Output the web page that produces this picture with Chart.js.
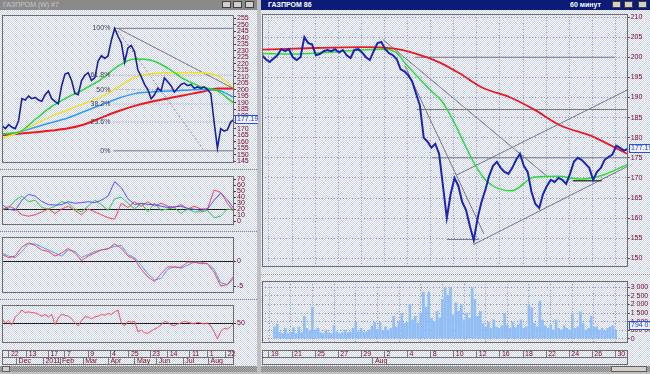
<!DOCTYPE html>
<html>
<head>
<meta charset="utf-8">
<script src="https://cdn.jsdelivr.net/npm/chart.js@4/dist/chart.umd.min.js"></script>
<style>
html, body { margin: 0; padding: 0; }
body { width: 650px; height: 374px; position: relative; overflow: hidden; background: #c0c0c0; font-family: "Liberation Sans", Arial, sans-serif; }
.win { position: absolute; top: 0; height: 372px; background: repeating-conic-gradient(#ffffff 0 25%, #c6cef6 0 50%) 0 0/2px 2px; }
.title { position: absolute; top: 0; height: 10px; font-size: 7px; line-height: 10px; white-space: nowrap; overflow: hidden; }
.btn { position: absolute; top: 1px; width: 9px; height: 7px; background: #d4d0c8; border: 1px solid #404040; box-sizing: border-box; }
.sep { position: absolute; height: 0; border-top: 1px dotted #8a8a8a; }
.scroll { position: absolute; top: 366px; height: 6px; background: repeating-conic-gradient(#808080 0 25%, #b4b4b4 0 50%) 0 0/2px 2px; }
.thumb { position: absolute; top: 0; height: 6px; background: #d4d0c8; border: 1px solid #606060; box-sizing: border-box; }
canvas { position: absolute; }
</style>
</head>
<body>
<div class="win" style="left:0;width:257px"></div>
<div class="win" style="left:261px;width:389px"></div>

<div class="title" style="left:0;width:257px;background:#8a8a8a;color:#c8c8c8;padding-left:3px;box-sizing:border-box">ГАЗПРОМ (W) #7</div>
<div class="btn" style="left:222px"></div><div class="btn" style="left:233px"></div><div class="btn" style="left:245px"></div>
<div class="title" style="left:261px;width:389px;background:#0c1a78;color:#ffffff;font-weight:bold;padding-left:7px;box-sizing:border-box">ГАЗПРОМ 86</div>
<div class="title" style="left:570px;width:40px;color:#ffffff;font-weight:bold">60 минут</div>
<div class="btn" style="left:612px"></div><div class="btn" style="left:624px"></div><div class="btn" style="left:638px"></div>

<div class="sep" style="left:0;width:257px;top:169px"></div>
<div class="sep" style="left:0;width:257px;top:231px"></div>
<div class="sep" style="left:0;width:257px;top:299px"></div>
<div class="sep" style="left:261px;width:389px;top:274px"></div>

<canvas id="lp" width="258" height="158" style="left:0;top:10px"></canvas>
<canvas id="ladx" width="258" height="59" style="left:0;top:171px"></canvas>
<canvas id="lmacd" width="258" height="66" style="left:0;top:232px"></canvas>
<canvas id="lrsi" width="258" height="48" style="left:0;top:300px"></canvas>
<canvas id="ld1" width="258" height="8" style="left:0;top:350px"></canvas>
<canvas id="ld2" width="258" height="8" style="left:0;top:357px"></canvas>

<canvas id="rp" width="390" height="263" style="left:260px;top:9px"></canvas>
<canvas id="rv" width="390" height="72" style="left:260px;top:276px"></canvas>
<canvas id="rd1" width="390" height="8" style="left:260px;top:350px"></canvas>
<canvas id="rd2" width="390" height="8" style="left:260px;top:357px"></canvas>

<div class="scroll" style="left:0;width:257px"><div class="thumb" style="left:2px;width:8px"></div></div>
<div class="scroll" style="left:261px;width:389px"><div class="thumb" style="left:350px;width:36px"></div></div>

<script>
// ДНЕВНОЙ ГРАФИК (левое окно), x = номер отсчёта (1 отсчёт ~ 3 торговых дня)
const leftPrice = [172,170,173,171,170,176,193,192,195,193, 194,192,191,196,199,193,191,189,203,212,
  213,207,197,196,207,211,213,207,209,222, 226,224,226,238,247,241,236,221,232,234,
  229,215,210,204,200,193,196,201,199,209, 206,203,198,201,204,205,203,204,201,202,
  201,202,200,197,175,155,170,168,169,175,177];
const leftMaX = [0,5,10,15,20,25,30,35,40,45,50,55,60,65,70];
const leftMaGreen = [166,167.2,177,187,194.4,200.6,208,218,223.5,222.5,216.5,208,202.3,199,189.5];
const leftMaYellow = [162.3,167.2,173.4,179.6,184.5,189.5,194.4,201.8,209.3,212.2,213,213,213,210.5,201.4];
const leftMaBlue = [166,167.2,171,174.7,178.4,183.3,188.3,193.2,196.9,198.1,198.9,199.4,200,199.5,194];
const leftMaRed = [164.8,166,167.2,168.5,170.2,173.4,178.4,183.3,187.5,190.7,193.2,195.7,198.1,200.8,200.9];
const leftYTicks = [145,150,155,160,165,170,175,180,185,190,195,200,205,210,215,220,225,230,235,240,245,250,255];

const fibLabels = ['100%','61.8%','50%','38.2%','23.6%','0%'];
const fibPrice = [247.1,211.1,200.0,188.9,175.1,152.9];
const fibX = [33.6,70];
const leftTrendX = [35,70], leftTrendY = [247,200.6];
const leftDotX = [35,61], leftDotY = [245,152.9];

const adxBlue = [27.7,20,18,35,44.7,42,33,27.7,27,27.7, 32.5,30,31,32.5,31,35,42,66,56,37.4,
  27.7,30,28,27.7,25,22.8,24,25,21.4,20, 18,20.4,35,47,36,20.4];
const adxGreen = [20.4,22,35,42,32.5,35,22.8,20.4,25,32.5, 30,20.4,15.5,25,35,27.7,18,37.4,40,30,
  20.4,30,15.5,30,18,20.4,22.8,13,20.4,15.5, 15.5,18,5.8,8.3,20.4,18];
const adxRed = [18,25,20.4,10.7,8.3,10.7,15.5,20.4,13,20.4, 25,18,10.7,20.4,15.5,10.7,5.8,3.4,30,22.8,
  32.5,25,32.5,25,30,25,22.8,27.7,20.4,25, 20.4,20.4,52,48,30,15.5];
const macdBlue = [1.6,1,0.7,1.9,3.4,3.4,2.8,2.2,1.6,1, 2.2,1.9,0.7,1.3,1.9,2.2,2.5,2.9,3.1,1.3,
  0.7,-0.8,-2.5,-3.7,-3.4,-1.6,-1.1,-1.4,-0.8,-0.2, -0.2,-0.5,-1.6,-4.3,-4.6,-3.4];
const macdRed = [1.3,0.7,1,2.8,3.6,3.1,2.2,1.9,1,1.6, 2.5,1.6,0.1,1,1.6,2.2,2.4,3.4,2.5,1,
  0.4,-1.6,-3.1,-4,-2.5,-1.1,-1.2,-1.2,-0.2,-0.2, -0.5,-0.5,-2.2,-4.9,-4.6,-2.9];
const rsiRed = [55,50,53,48,57,60,65,62,63,62, 61.7,60,58,60,57,60,48,56,60,59,
  58,55,50,47,53,57,57,55,57,58, 60,59,61,60,63,65,50,47,52,51,
  52,40,42,39,38,41,43,45,48,52, 51,48,47,49,50,52,51,50,49,51,
  50,49,50,47,40,32,40,44,43,46,50];

const leftDayTicks = [2.1,7.45,14.0,19.0,26.0,32.6,38.3,44.7,50.0,56.7,62.1,67.5];
const leftDayLabels = ['22','13','17','7','9','4','25','23','14','11','1','22'];
const leftMonthTicks = [4.4,12.5,17.5,24.5,32.1,40.1,46.7,54.7,62.3];
const leftMonthLabels = ['Dec','2011','Feb','Mar','Apr','May','Jun','Jul','Aug'];

// ЧАСОВОЙ ГРАФИК (правое окно), x = торговый день от 19 июля
const rightPrice = [200.5,199.5,198.8,199.7,200.5,202,201.5,202,200,199.3,
  200,205,203.5,203.2,200.5,200.8,201.5,201.8,201.5,202,
  201.2,201.8,200.5,199.8,201.8,202,201.2,200,199.3,201.5,
  203.5,203.8,202,201,200.5,199.5,197,196.5,195.5,194,
  191,188,180,179,177.5,178.5,176,168,160,166,
  170,168,164,162,158,154.5,160,164,167,170.5,
  173,174,172.5,171.5,171,172.5,174.5,176,173,171.5,
  166.5,163.5,162.5,166,168,169.5,169,170,169.5,168.5,
  171,174,175,174.5,173.5,172.5,169.5,171.5,172.5,174.5,
  175.2,175.8,178,177.5,176.8,177.2];
const rightGreenX = [-0.6,2,5,8,10,11,12,13,14,15,16,17,18,19,21,23,25,27,29,31];
const rightGreenY = [200.9,200.8,201.2,201.8,202,201.2,197.8,194.8,191.8,189,184,178,172.5,168.8,166.8,170.2,170.4,169.7,170.8,173.3];
const rightRedX = [-0.6,4,8,10.7,12.7,14.7,16.5,18.5,20.9,22.9,25.2,28.1,29.5,31];
const rightRedY = [201.9,202.3,202.5,202.2,200.9,198.8,196,192.4,190,187.1,183.1,180.2,178.2,176];

const trendDownX = [9.87,24.16], trendDownY = [204.4,170.2];
const trendSteepX = [11.77,18.61], trendSteepY = [197.9,156.1];
const chanUpX = [16.25,31.06], chanUpY = [170.7,191.9];
const chanDnX = [17.69,31.06], chanDnY = [153.4,172.9];
const levelX = [[12.7,29.95],[12.8,31.06],[14.1,31.06],[15.4,18.2]];
const levelY = [200,187,175,154.7];
const supportX = [26.3,28.8], supportY = 169.3;

const rightVolume = [0.7,0.86,0.35,0.3,0.6,0.3,0.35,0.65,0.3,0.68, 0.35,1.3,0.6,0.45,1.84,0.5,0.6,0.35,0.3,0.5,
  0.35,0.3,0.77,0.4,0.3,0.35,0.5,0.35,0.4,0.6, 0.95,0.4,0.6,0.35,0.4,0.5,0.75,0.95,0.55,0.95,
  0.45,0.7,0.5,0.6,1.3,0.7,1.0,1.48,0.9,0.95, 2.0,1.1,1.3,0.9,1.5,2.73,1.85,2.73,1.2,1.0,
  1.6,1.2,2.3,3.0,2.55,3.0,1.4,2.1,1.6,2.0, 1.1,1.5,1.2,3.0,2.3,1.3,1.6,0.9,0.7,0.95,
  0.6,1.1,0.7,0.6,0.75,1.48,0.8,0.6,0.95,0.65, 0.8,1.1,0.6,0.7,2.0,1.8,0.9,0.7,2.2,1.1,
  0.75,0.6,0.8,0.5,1.1,0.6,0.5,0.75,0.6,0.5, 1.48,0.6,0.7,1.57,0.9,0.5,0.6,1.3,0.7,0.7,
  0.5,0.6,0.45,0.6,0.7,0.75,0.5];
const rightYTicks = [150,155,160,165,170,175,180,185,190,195,200,205,210];
const volTicks = [0,0.5,1,1.5,2,2.5,3];
const rightDayTicks = [0,2,4,6,8,10,12,14,16,18,20,22,24,26,28,30];
const rightDayLabels = ['19','21','25','27','29','2','4','8','10','12','16','18','22','24','26','30'];
const rightMonthTicks = [9];
const rightMonthLabels = ['Aug'];

// ---- общие настройки ----
Chart.defaults.font.family = '"Liberation Sans", Arial, sans-serif';
Chart.defaults.font.size = 7;
Chart.defaults.color = '#800000';
Chart.defaults.animation = false;
Chart.defaults.responsive = false;
Chart.defaults.devicePixelRatio = 1;
Chart.defaults.events = [];
Chart.defaults.plugins.legend.display = false;
Chart.defaults.plugins.tooltip.enabled = false;

const pts = (ys, x0, dx) => ys.map((y, i) => ({ x: x0 + i * dx, y }));
const xy = (xs, ys) => xs.map((x, i) => ({ x, y: Array.isArray(ys) ? ys[i] : ys }));
const line = (data, color, width, extra) => Object.assign({
  type: 'line', data, borderColor: color, borderWidth: width, pointRadius: 0, fill: false, tension: 0
}, extra || {});
const smooth = { cubicInterpolationMode: 'monotone' };
const grayLine = '#777777';

const frame = { id: 'frame', afterDraw(c) {
  const a = c.chartArea, ctx = c.ctx;
  ctx.save();
  ctx.strokeStyle = '#6b6b6b'; ctx.lineWidth = 1;
  ctx.strokeRect(Math.round(a.left) + 0.5, Math.round(a.top) + 0.5, Math.round(a.right - a.left) - 1, Math.round(a.bottom - a.top) - 1);
  ctx.restore();
}};

const valueBox = { id: 'valueBox', afterDraw(c, args, o) {
  if (!o || !o.text) return;
  const y = Math.round(c.scales.y.getPixelForValue(o.value));
  const x = Math.round(c.chartArea.right) + 1, ctx = c.ctx;
  ctx.save();
  ctx.font = '7px "Liberation Sans", Arial, sans-serif';
  const w = Math.round(ctx.measureText(o.text).width) + 4;
  ctx.fillStyle = '#eef1ff'; ctx.fillRect(x, y - 4, w, 9);
  ctx.strokeStyle = '#2f4fd0'; ctx.lineWidth = 1; ctx.strokeRect(x + 0.5, y - 3.5, w - 1, 8);
  ctx.fillStyle = '#2040c0'; ctx.textBaseline = 'middle'; ctx.fillText(o.text, x + 2, y + 0.5);
  ctx.restore();
}};

const fibText = { id: 'fibText', afterDatasetsDraw(c, args, o) {
  if (!o || !o.labels) return;
  const ctx = c.ctx, px = c.scales.x.getPixelForValue(o.x) - 3;
  ctx.save();
  ctx.font = '7px "Liberation Sans", Arial, sans-serif';
  ctx.fillStyle = '#404040'; ctx.textAlign = 'right'; ctx.textBaseline = 'middle';
  o.labels.forEach((t, i) => ctx.fillText(t, px, c.scales.y.getPixelForValue(o.levels[i])));
  ctx.restore();
}};

function yRight(min, max, ticks, width, o) {
  o = o || {};
  return {
    position: 'right', min, max,
    afterBuildTicks: s => { s.ticks = ticks.map(v => ({ value: v })); },
    afterFit: s => { s.width = width; },
    ticks: { autoSkip: false, padding: 1, callback: o.fmt || (v => String(v)) },
    grid: { drawOnChartArea: !!o.grid, color: o.grid || 'rgba(0,0,0,0)', tickLength: 2, tickColor: '#404040' },
    border: { display: false, dash: o.dash || [] }
  };
}
function xHidden(min, max, ticks, gridColor) {
  return {
    type: 'linear', min, max,
    afterBuildTicks: s => { s.ticks = (ticks || []).map(v => ({ value: v })); },
    afterFit: s => { s.height = 0; },
    ticks: { display: false },
    grid: { display: !!gridColor, color: gridColor || 'rgba(0,0,0,0)', drawTicks: false },
    border: { display: false, dash: [1, 2] }
  };
}
// строка дат: подписи зеркально внутри ячейки (mirror снимает обрезку по области шкалы)
function dateRow(id, min, max, ticks, labels, pad) {
  new Chart(document.getElementById(id), {
    type: 'line', data: { datasets: [] },
    options: {
      layout: { padding: pad },
      scales: {
        x: {
          type: 'linear', min, max,
          afterBuildTicks: s => { s.ticks = ticks.map(v => ({ value: v })); },
          afterFit: s => { s.height = 0; },
          ticks: { autoSkip: false, maxRotation: 0, mirror: true, align: 'start', labelOffset: 2, padding: 0, callback: (v, i) => labels[i] },
          grid: { color: '#7a7a7a', drawTicks: false },
          border: { display: false }
        },
        y: { display: false }
      }
    },
    plugins: [frame]
  });
}
const onlyAt = (val, col) => c => (c.tick && c.tick.value === val) ? col : 'rgba(0,0,0,0)';

// ---- левое окно: цена ----
const leftDatasets = [
  line(pts(leftPrice, 0, 1), '#18209c', 1.6),
  line(xy(leftMaX, leftMaGreen), '#22dd22', 1.5, smooth),
  line(xy(leftMaX, leftMaYellow), '#f2e21c', 1.5, smooth),
  line(xy(leftMaX, leftMaBlue), '#2f9cf2', 1.5, smooth),
  line(xy(leftMaX, leftMaRed), '#ee1a1a', 2, smooth),
  line(xy(leftTrendX, leftTrendY), grayLine, 1),
  line(xy(leftDotX, leftDotY), '#8a8a8a', 1, { borderDash: [2, 2] })
];
fibPrice.forEach((p, i) => {
  const edge = i === 0 || i === fibPrice.length - 1;
  leftDatasets.push(line(xy(fibX, p), edge ? grayLine : '#8a8a8a', 1, edge ? {} : { borderDash: [1, 2] }));
});
new Chart(document.getElementById('lp'), {
  type: 'line',
  data: { datasets: leftDatasets },
  options: {
    layout: { padding: { left: 2, right: 0, top: 2, bottom: 3 } },
    scales: { x: xHidden(0, 70), y: yRight(143.7, 257.2, leftYTicks, 24) },
    plugins: { valueBox: { value: 177.19, text: '177.19' }, fibText: { x: fibX[0], levels: fibPrice, labels: fibLabels } }
  },
  plugins: [frame, valueBox, fibText]
});

// ---- левое окно: индикаторы ----
new Chart(document.getElementById('ladx'), {
  type: 'line',
  data: { datasets: [
    line(pts(adxBlue, 0, 2), '#5050ff', 1),
    line(pts(adxRed, 0, 2), '#ff4040', 1),
    line(pts(adxGreen, 0, 2), '#30cc30', 1)
  ] },
  options: {
    layout: { padding: { left: 2, right: 0, top: 2, bottom: 3 } },
    scales: { x: xHidden(0, 70), y: yRight(-6, 75.1, [0,10,20,30,40,50,60,70], 24, { grid: onlyAt(20, '#202020') }) }
  },
  plugins: [frame]
});
new Chart(document.getElementById('lmacd'), {
  type: 'line',
  data: { datasets: [
    line(pts(macdRed, 0, 2), '#ff4040', 1),
    line(pts(macdBlue, 0, 2), '#4c9cff', 1)
  ] },
  options: {
    layout: { padding: { left: 2, right: 0, top: 2, bottom: 2 } },
    scales: { x: xHidden(0, 70), y: yRight(-6.24, 4.72, [-5, 0], 24, { grid: onlyAt(0, '#202020') }) }
  },
  plugins: [frame]
});
new Chart(document.getElementById('lrsi'), {
  type: 'line',
  data: { datasets: [ line(pts(rsiRed, 0, 1), '#ff4a4a', 1) ] },
  options: {
    layout: { padding: { left: 2, right: 0, top: 3, bottom: 2 } },
    scales: { x: xHidden(0, 70), y: yRight(27.3, 70.6, [50], 24, { grid: onlyAt(50, '#202020') }) }
  },
  plugins: [frame]
});
dateRow('ld1', 0, 70, leftDayTicks, leftDayLabels, { left: 2, right: 24, top: 0, bottom: 0 });
dateRow('ld2', 0, 70, leftMonthTicks, leftMonthLabels, { left: 2, right: 24, top: 0, bottom: 0 });

// ---- правое окно: цена ----
const gridDots = '#8c94c8';
const rightDatasets = [
  line(pts(rightPrice, -0.6, 1 / 3), '#1a24b0', 2),
  line(xy(rightRedX, rightRedY), '#ee1818', 1.8, smooth),
  line(xy(rightGreenX, rightGreenY), '#28e028', 1.5, smooth),
  line(xy(supportX, supportY), '#404040', 1.5),
  line(xy(trendDownX, trendDownY), grayLine, 1),
  line(xy(trendSteepX, trendSteepY), grayLine, 1),
  line(xy(chanUpX, chanUpY), grayLine, 1),
  line(xy(chanDnX, chanDnY), grayLine, 1)
];
levelY.forEach((p, i) => rightDatasets.push(line(xy(levelX[i], p), grayLine, 1)));
new Chart(document.getElementById('rp'), {
  type: 'line',
  data: { datasets: rightDatasets },
  options: {
    layout: { padding: { left: 2, right: 0, top: 2, bottom: 2 } },
    scales: {
      x: xHidden(-0.6, 31.06, rightDayTicks, gridDots),
      y: yRight(147.9, 210.7, rightYTicks, 22.3, { grid: gridDots, dash: [1, 2] })
    },
    plugins: { valueBox: { value: 177.4, text: '177.19' } }
  },
  plugins: [frame, valueBox]
});

// ---- правое окно: объём ----
const fmtVol = v => String(Math.round(v * 1e6)).replace(/\B(?=(\d{3})+(?!\d))/g, ' ');
new Chart(document.getElementById('rv'), {
  type: 'bar',
  data: { datasets: [{ data: pts(rightVolume, -0.5, 0.25), backgroundColor: '#8fbdf4', barThickness: 2, borderWidth: 0 }] },
  options: {
    layout: { padding: { left: 2, right: 0, top: 2, bottom: 2 } },
    scales: {
      x: xHidden(-0.6, 31.06, rightDayTicks, gridDots),
      y: yRight(-0.24, 3.36, volTicks, 22.3, { grid: gridDots, dash: [1, 2], fmt: fmtVol })
    },
    plugins: { valueBox: { value: 0.79, text: '794 072' } }
  },
  plugins: [frame, valueBox]
});
dateRow('rd1', -0.6, 31.06, rightDayTicks, rightDayLabels, { left: 2, right: 22.3, top: 0, bottom: 0 });
dateRow('rd2', -0.6, 31.06, rightMonthTicks, rightMonthLabels, { left: 2, right: 22.3, top: 0, bottom: 0 });
</script>
</body>
</html>
